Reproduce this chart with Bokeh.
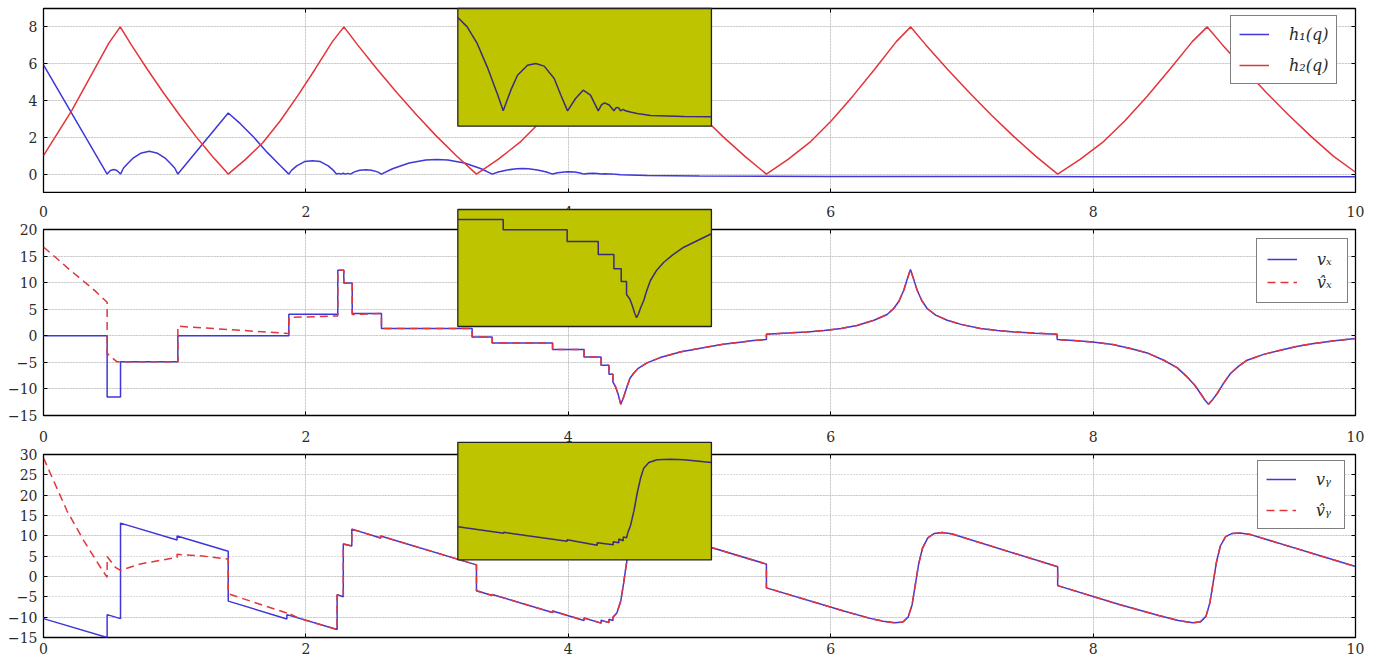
from bokeh.plotting import figure
from bokeh.layouts import column
from bokeh.models import (Range1d, FixedTicker, LinearAxis, CustomJSTickFormatter,
                          Legend, LegendItem, Grid)
from bokeh.embed import file_html
from bokeh.resources import INLINE

# ---------------- data ----------------
X_TICKS = [0, 2, 4, 6, 8, 10]
H_TICKS = [0, 2, 4, 6, 8]
VX_TICKS = [-15, -10, -5, 0, 5, 10, 15, 20]
VY_TICKS = [-15, -10, -5, 0, 5, 10, 15, 20, 25, 30]

h1_t = [0.0, 0.485, 0.51, 0.536, 0.56, 0.587, 0.61, 0.64, 0.68, 0.74, 0.806, 0.87, 0.93, 0.97, 1.0, 1.024,
        1.408, 1.5, 1.603, 1.705, 1.806, 1.87, 1.89, 1.93, 1.99, 2.05, 2.11, 2.17, 2.21, 2.233, 2.25, 2.265,
        2.285, 2.30, 2.32, 2.34, 2.37, 2.41, 2.458, 2.50, 2.545, 2.576, 2.66, 2.787, 2.914, 2.998, 3.082,
        3.209, 3.336, 3.42, 3.466, 3.535, 3.604, 3.65, 3.696, 3.765, 3.834, 3.88, 3.92, 3.97, 4.0, 4.05,
        4.09, 4.12, 4.15, 4.185, 4.22, 4.25, 4.28, 4.31, 4.325, 4.34, 4.40, 4.6, 5.0, 6.0, 8.0, 10.0]
h1 = [5.93, 0.0, 0.2, 0.25, 0.2, 0.0, 0.33, 0.56, 0.85, 1.13, 1.24, 1.13, 0.85, 0.56, 0.33, 0.0,
      3.32, 2.74, 2.0, 1.18, 0.45, 0.0, 0.2, 0.45, 0.68, 0.73, 0.68, 0.45, 0.2, 0.0, 0.04, 0.0,
      0.05, 0.0, 0.04, 0.0, 0.12, 0.21, 0.24, 0.21, 0.12, 0.0, 0.29, 0.60, 0.77, 0.80, 0.77,
      0.60, 0.29, 0.0, 0.11, 0.225, 0.288, 0.30, 0.288, 0.225, 0.11, 0.0, 0.07, 0.12, 0.13, 0.11,
      0.06, 0.0, 0.035, 0.05, 0.035, 0.0, 0.02, 0.0, 0.01, 0.0, -0.03, -0.08, -0.11, -0.13, -0.14, -0.14]

h2_t = [0.0, 0.216, 0.498, 0.585, 0.667, 0.791, 0.914, 1.038, 1.161, 1.285, 1.408,
        1.540, 1.673, 1.805, 1.937, 2.07, 2.202, 2.29,
        2.391, 2.543, 2.694, 2.846, 2.997, 3.149, 3.30,
        3.465, 3.63, 3.795, 3.96, 4.125, 4.29, 4.40,
        4.511, 4.678, 4.844, 5.011, 5.177, 5.344, 5.51,
        5.675, 5.84, 6.005, 6.17, 6.335, 6.5, 6.61,
        6.722, 6.89, 7.058, 7.226, 7.394, 7.562, 7.73,
        7.901, 8.072, 8.243, 8.414, 8.585, 8.756, 8.87,
        8.983, 9.153, 9.322, 9.492, 9.661, 9.831, 10.0]
h2 = [1.0, 3.46, 7.12, 8.0, 7.05, 5.7, 4.42, 3.2, 2.05, 0.98, 0.0,
      0.8, 1.72, 2.9, 4.25, 5.7, 7.2, 8.0,
      7.05, 5.7, 4.42, 3.2, 2.05, 0.98, 0.0,
      0.8, 1.72, 2.9, 4.25, 5.7, 7.2, 8.0,
      7.05, 5.7, 4.42, 3.2, 2.05, 0.98, 0.0,
      0.8, 1.72, 2.9, 4.25, 5.7, 7.2, 8.0,
      7.05, 5.7, 4.42, 3.2, 2.05, 0.98, 0.0,
      0.8, 1.72, 2.9, 4.25, 5.7, 7.2, 8.0,
      7.05, 5.7, 4.42, 3.2, 2.05, 0.98, 0.1]

vx_t = [0.0, 0.485, 0.485, 0.587, 0.587, 1.024, 1.024, 1.87, 1.87, 2.243, 2.243, 2.289, 2.289, 2.353,
        2.353, 2.576, 2.576, 3.267, 3.267, 3.42, 3.42, 3.88, 3.88, 4.12, 4.12, 4.25, 4.25, 4.31, 4.31,
        4.34, 4.34, 4.36, 4.38, 4.40, 4.415, 4.43, 4.45, 4.47, 4.50, 4.53, 4.60, 4.70, 4.86, 5.06, 5.18,
        5.31, 5.41, 5.51, 5.51, 5.70, 5.82, 5.95, 6.08, 6.20, 6.33, 6.43, 6.48, 6.52, 6.557, 6.585, 6.608,
        6.63, 6.659, 6.695, 6.735, 6.80, 6.888, 7.00, 7.142, 7.27, 7.396, 7.56, 7.726, 7.726, 7.85, 7.997,
        8.15, 8.285, 8.42, 8.539, 8.64, 8.717, 8.775, 8.819, 8.855, 8.88, 8.905, 8.946, 8.995, 9.047,
        9.11, 9.174, 9.30, 9.428, 9.55, 9.682, 9.84, 10.0]
vx = [0.0, 0.0, -11.5, -11.5, -4.9, -4.9, 0.0, 0.0, 4.06, 4.06, 12.34, 12.34, 9.95, 9.95,
      4.2, 4.2, 1.37, 1.37, -0.21, -0.21, -1.34, -1.34, -2.58, -2.58, -3.97, -3.97, -5.54, -5.54, -7.23,
      -7.23, -8.68, -9.6, -11.0, -12.88, -12.0, -10.9, -9.4, -8.0, -7.0, -6.2, -5.1, -4.1, -3.0, -2.1, -1.6,
      -1.2, -0.9, -0.7, 0.3, 0.55, 0.73, 1.0, 1.37, 1.95, 2.93, 4.0, 5.13, 6.5, 8.58, 10.8, 12.47,
      10.8, 8.58, 6.6, 5.13, 3.9, 2.93, 2.1, 1.37, 1.0, 0.73, 0.5, 0.30, -0.70, -0.9, -1.15,
      -1.65, -2.39, -3.3, -4.6, -6.0, -7.74, -9.3, -10.86, -12.2, -12.88, -12.2, -10.86, -8.9, -7.1,
      -5.7, -4.6, -3.5, -2.71, -2.0, -1.45, -0.95, -0.5]

vxh_head_t = [0.0, 0.1, 0.2, 0.3, 0.4, 0.485, 0.485, 0.56, 1.024, 1.024, 1.87, 1.87, 2.243, 2.243,
              2.289, 2.289, 2.353, 2.353, 2.576]
vxh_head = [16.7, 14.6, 12.4, 10.4, 8.3, 6.3, -3.3, -4.9, -4.9, 1.8, 0.43, 3.44, 3.74, 12.34,
            12.34, 9.95, 9.95, 4.0, 4.2]

vy_t = [0.0, 0.485, 0.485, 0.587, 0.587, 1.018, 1.018, 1.408, 1.408, 1.855, 1.855, 2.238, 2.238, 2.285,
        2.285, 2.35, 2.35, 2.57, 2.57, 3.30, 3.30, 3.42, 3.42, 3.88, 3.88, 4.12, 4.12, 4.25, 4.25, 4.31,
        4.31, 4.34, 4.34, 4.37, 4.40, 4.42, 4.44, 4.46, 4.49, 4.53, 4.58, 4.63, 5.51, 5.51, 6.10, 6.30,
        6.40, 6.49, 6.55, 6.59, 6.62, 6.645, 6.67, 6.70, 6.74, 6.79, 6.85, 6.92, 7.73, 7.73, 8.20, 8.50,
        8.65, 8.76, 8.82, 8.86, 8.89, 8.915, 8.94, 8.97, 9.01, 9.06, 9.12, 9.20, 10.0]
vy = [-10.36, -15.0, -9.38, -10.36, 13.13, 8.97, 9.95, 6.2, -6.05, -10.45, -9.38, -13.04, -4.5, -5.0,
      7.99, 7.5, 11.65, 9.46, 9.94, 2.86, -3.5, -4.66, -4.41, -8.87, -8.47, -10.8, -10.2, -11.46, -10.76, -11.34,
      -10.5, -10.8, -10.0, -9.0, -6.0, -2.0, 2.5, 6.5, 9.5, 11.2, 11.8, 11.6, 3.05, -2.8, -8.5, -10.3,
      -11.0, -11.4, -11.2, -10.0, -7.0, -2.0, 3.0, 7.0, 9.5, 10.6, 10.8, 10.5, 2.4, -2.25, -6.9, -9.6,
      -10.8, -11.4, -11.1, -9.8, -6.5, -1.5, 3.5, 7.5, 9.8, 10.6, 10.7, 10.3, 2.45]

vyh_head_t = [0.0, 0.05, 0.18, 0.307, 0.434, 0.485, 0.485, 0.548, 0.587, 0.739, 1.018, 1.018, 1.196,
              1.408, 1.408, 1.855, 1.855, 1.95, 2.238]
vyh_head = [29.2, 25.5, 16.1, 8.8, 2.27, -0.2, 4.9, 2.27, 1.5, 3.1, 4.7, 5.45, 5.1,
            4.3, -4.24, -9.0, -8.8, -10.3, -13.04]

# inset (zoomed) curves
inset1_t = [3.10, 3.17, 3.245, 3.32, 3.395, 3.44, 3.497, 3.547, 3.622, 3.684, 3.747, 3.822, 3.872, 3.922,
            3.982, 4.039, 4.094, 4.152, 4.176, 4.199, 4.234, 4.269, 4.282, 4.294, 4.307, 4.319, 4.339,
            4.356, 4.40, 4.444, 4.544, 4.793, 5.0]
inset1 = [0.794, 0.714, 0.573, 0.374, 0.148, 0.0, 0.176, 0.303, 0.388, 0.403, 0.380, 0.275, 0.133, 0.0,
          0.105, 0.176, 0.133, 0.0, 0.05, 0.068, 0.05, 0.0, 0.022, 0.029, 0.022, 0.0, 0.012,
          0.0, -0.012, -0.022, -0.039, -0.048, -0.051]
inset2_t = [3.10, 3.44, 3.44, 3.919, 3.919, 4.152, 4.152, 4.269, 4.269, 4.324, 4.324, 4.364, 4.364,
            4.39, 4.41, 4.425, 4.439, 4.455, 4.47, 4.493, 4.515, 4.543, 4.59, 4.643, 4.71, 4.793, 4.90, 5.0]
inset2 = [0.63, 0.63, -0.78, -0.78, -2.38, -2.38, -4.15, -4.15, -6.11, -6.11, -7.85, -7.85, -9.62,
          -10.3, -11.3, -12.2, -12.81, -12.2, -11.4, -10.44, -9.1, -7.71, -6.3, -5.21, -4.2, -3.16, -2.2, -1.32]
inset3_t = [3.10, 3.445, 3.445, 3.919, 3.919, 4.144, 4.144, 4.264, 4.264, 4.306, 4.306, 4.339, 4.339,
            4.364, 4.372, 4.394, 4.419, 4.444, 4.469, 4.493, 4.531, 4.593, 4.693, 4.793, 5.0]
inset3 = [-4.12, -5.68, -5.44, -7.57, -7.20, -8.52, -7.90, -8.38, -7.67, -7.90, -7.03, -7.43, -6.56,
          -6.72, -5.68, -3.79, -0.40, 3.93, 7.48, 9.85, 11.2, 11.83, 11.98, 11.83, 11.2]

# ---------------- style / layout ----------------
BLUE = "#3f37d9"
RED = "#e3343a"
OLIVE = "#bfc400"
INSET_LINE = "#3a2c7a"
GRID = "#b4b4b4"
TEXT = "#2b2b2b"
FONT = "DejaVu Serif"

INSET_SRC_X = (3.1, 5.0)
INSET_DST_X = (3.158, 5.091)


def make_axis(ticks, labels, standoff=5):
    ax = LinearAxis(ticker=FixedTicker(ticks=ticks), axis_line_color=None,
                    major_tick_in=4, major_tick_out=0, major_tick_line_color="black",
                    major_tick_line_width=1, minor_tick_line_color=None)
    if labels:
        ax.formatter = CustomJSTickFormatter(
            code="return tick < 0 ? '\u2212' + Math.abs(tick) : String(tick);")
        ax.major_label_text_font = FONT
        ax.major_label_text_font_size = "14px"
        ax.major_label_text_color = TEXT
        ax.major_label_standoff = standoff
    else:
        ax.formatter = CustomJSTickFormatter(code="return '';")
        ax.major_label_text_font_size = "0px"
        ax.major_label_standoff = 0
    return ax


def make_panel(height, mb_top, mb_bottom, yr, yticks, above_labels, below_labels,
               above_standoff=13, below_standoff=5):
    p = figure(width=1376, height=height, x_range=Range1d(0, 10), y_range=Range1d(*yr),
               output_backend="svg", toolbar_location=None,
               x_axis_location=None, y_axis_location=None,
               min_border_left=43, min_border_right=21,
               min_border_top=mb_top, min_border_bottom=mb_bottom)
    p.outline_line_color = "black"
    p.outline_line_width = 1.3
    p.background_fill_color = "white"
    p.border_fill_color = "white"
    p.add_layout(make_axis(yticks, True, 6), "left")
    p.add_layout(make_axis(yticks, False), "right")
    p.add_layout(make_axis(X_TICKS, above_labels, above_standoff), "above")
    p.add_layout(make_axis(X_TICKS, below_labels, below_standoff), "below")
    p.add_layout(Grid(dimension=0, ticker=FixedTicker(ticks=X_TICKS), grid_line_color=GRID,
                      grid_line_dash="1 2", grid_line_width=1))
    p.add_layout(Grid(dimension=1, ticker=FixedTicker(ticks=yticks), grid_line_color=GRID,
                      grid_line_dash="1 2", grid_line_width=1))
    return p


def add_inset(p, dst_y, src_y, xs, ys):
    sub = p.subplot(x_source=Range1d(*INSET_SRC_X), y_source=Range1d(*src_y),
                    x_target=Range1d(*INSET_DST_X), y_target=Range1d(*dst_y))
    q = sub.quad(left=[INSET_SRC_X[0]], right=[INSET_SRC_X[1]], bottom=[src_y[0]], top=[src_y[1]],
                 fill_color=OLIVE, line_color="#222222", line_width=1.3)
    ln = sub.line(xs, ys, line_color=INSET_LINE, line_width=1.5)
    q.level = "overlay"
    ln.level = "overlay"


def add_legend(p, items, loc, padding, spacing):
    lg = Legend(items=items, location=loc, margin=0, padding=padding, spacing=spacing,
                border_line_color="black", border_line_width=1.3,
                background_fill_color="white", background_fill_alpha=1.0,
                label_text_font=FONT, label_text_font_style="italic",
                label_text_font_size="16px", label_text_color=TEXT,
                glyph_width=30, glyph_height=20, label_height=20, label_standoff=20)
    p.add_layout(lg)


# ---- panel 1 : h1, h2 ----
p1 = make_panel(193, 8, 1, (-1, 9), H_TICKS, False, False)
r_h1 = p1.line(h1_t, h1, line_color=BLUE, line_width=1.5)
r_h2 = p1.line(h2_t, h2, line_color=RED, line_width=1.5)
add_legend(p1, [LegendItem(label="h\u2081(q)", renderers=[r_h1]),
                LegendItem(label="h\u2082(q)", renderers=[r_h2])], (1187, 108), 8, 11)
add_inset(p1, (2.607, 9.0), (-0.13, 0.87), inset1_t, inset1)

# ---- panel 2 : vx ----
VXH_FROM = 16   # estimate follows v_x after the impact at q = 2.576
p2 = make_panel(230, 36, 8, (-15, 20), VX_TICKS, True, False, above_standoff=13)
r_vx = p2.line(vx_t, vx, line_color=BLUE, line_width=1.5)
r_vxh = p2.line(vxh_head_t + vx_t[VXH_FROM:], vxh_head + vx[VXH_FROM:], line_color=RED,
                line_width=1.5, line_dash="8 5")
add_legend(p2, [LegendItem(label="v\u2093", renderers=[r_vx]),
                LegendItem(label="v\u0302\u2093", renderers=[r_vxh])], (1213, 112), 10, 3)
add_inset(p2, (1.75, 23.76), (-14, 2), inset2_t, inset2)

# ---- panel 3 : vy ----
VYH_FROM = 12   # estimate follows v_y after the impact at q = 2.238
p3 = make_panel(238, 31, 24, (-15, 30), VY_TICKS, True, True, above_standoff=13, below_standoff=5)
r_vy = p3.line(vy_t, vy, line_color=BLUE, line_width=1.5)
r_vyh = p3.line(vyh_head_t + vy_t[VYH_FROM:], vyh_head + vy[VYH_FROM:], line_color=RED,
                line_width=1.5, line_dash="8 5")
add_legend(p3, [LegendItem(label="v\u1d67", renderers=[r_vy]),
                LegendItem(label="v\u0302\u1d67", renderers=[r_vyh])], (1214, 108), 8, 11)
add_inset(p3, (4.08, 33.0), (-12, 16), inset3_t, inset3)

layout = column(p1, p2, p3, spacing=0)
open("out.html", "w").write(file_html(layout, INLINE))
